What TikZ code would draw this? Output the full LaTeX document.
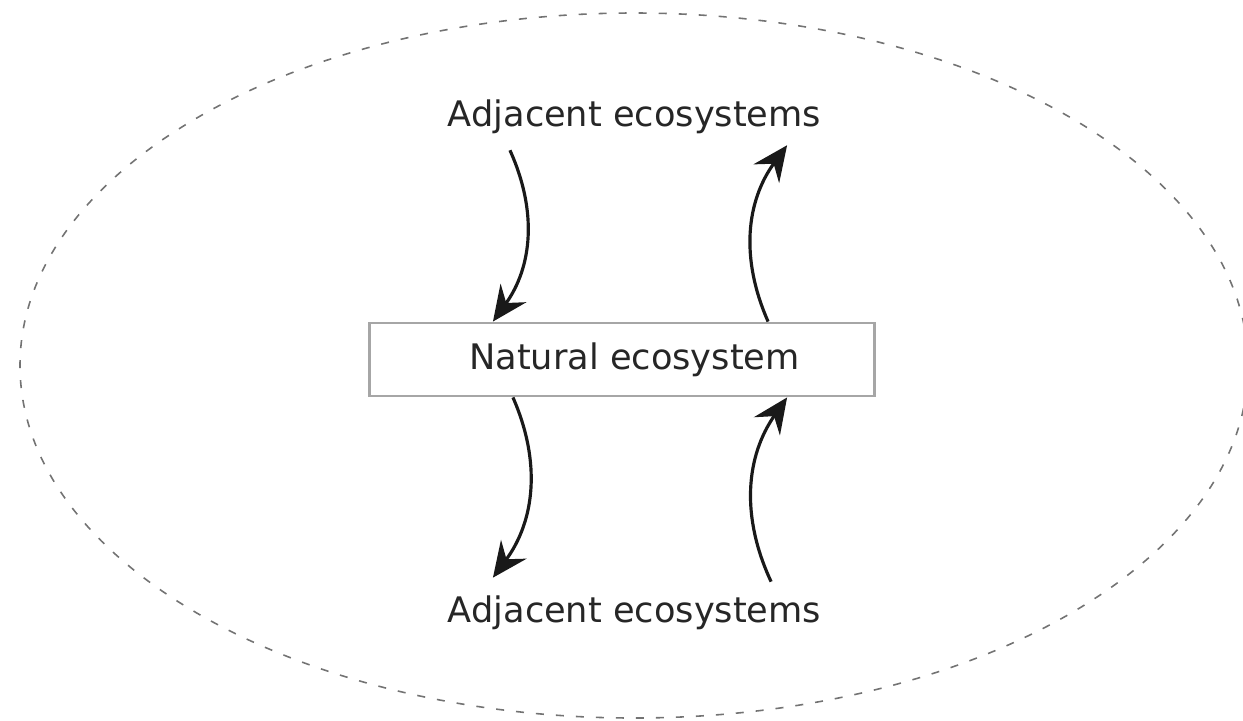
\documentclass[tikz,border=0pt]{standalone}
\usepackage{fontspec}
\setmainfont{DejaVu Sans}
\usetikzlibrary{arrows.meta, positioning}

\begin{document}
\begin{tikzpicture}[
    x=0.01cm, y=0.01cm,
    boundary/.style={draw=black!55, line width=0.45pt, dash pattern=on 0.08cm off 0.12cm},
    ecobox/.style={rectangle, draw=gray!70, line width=0.8pt, fill=white, minimum width=5.04cm, minimum height=0.73cm, font=\fontsize{10}{12}\selectfont, text=black!85},
    label/.style={font=\fontsize{10}{12}\selectfont, text=black!85},
    arrow/.style={-{Stealth[length=10pt, width=9pt, inset=3.5pt]}, line width=0.9pt, draw=black!90}
]
\useasboundingbox (0,0) rectangle (1243,720);

\draw[boundary] (634,354.5) ellipse [x radius=614, y radius=352.5];

\node[ecobox] (box) at (622,360.5) {\hspace{0.25cm}Natural ecosystem};
\node[label, above=1.755cm of box, xshift=0.125cm] (top) {Adjacent ecosystems};
\node[label, below=1.86cm of box, xshift=0.125cm] (bottom) {Adjacent ecosystems};

\draw[arrow] ([xshift=-1.245cm, yshift=-0.24cm]top.base) to[bend left=30] ([xshift=-1.29cm]box.north);
\draw[arrow] ([xshift=1.46cm]box.north) to[bend left=30] ([xshift=1.525cm, yshift=-0.19cm]top.base);
\draw[arrow] ([xshift=-1.09cm]box.south) to[bend left=30] ([xshift=-1.415cm, yshift=0.45cm]bottom.base);
\draw[arrow] ([xshift=1.365cm, yshift=0.41cm]bottom.base) to[bend left=30] ([xshift=1.65cm]box.south);

\end{tikzpicture}
\end{document}
